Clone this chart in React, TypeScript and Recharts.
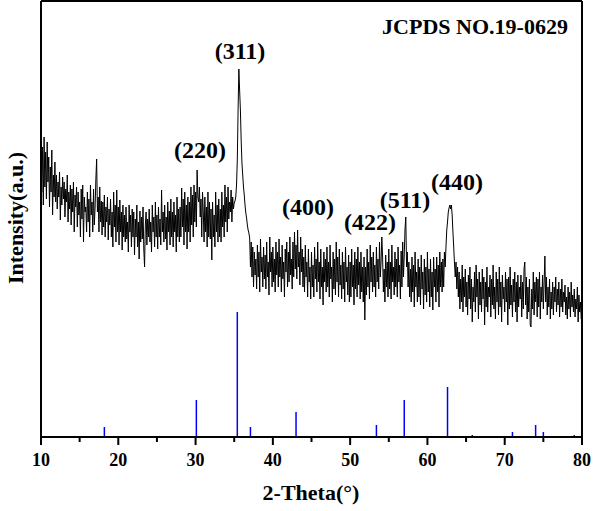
import { LineChart, Line, XAxis, YAxis, ReferenceLine } from 'recharts';

// diffraction scan, 2-theta from 10 to 80 in 0.1 deg steps (one row per degree)
const thetaStart = 10;
const thetaStep = 0.1;
const intensity = [
  270, 245, 290, 232, 300, 250, 285, 238, 295, 255, // 10
  280, 230, 270, 245, 287, 222, 262, 240, 275, 235, // 11
  262, 228, 255, 240, 265, 217, 250, 232, 260, 238, // 12
  255, 220, 248, 235, 262, 215, 245, 228, 252, 212, // 13
  248, 225, 255, 205, 242, 230, 250, 210, 245, 222, // 14
  235, 200, 248, 218, 252, 195, 240, 225, 230, 205, // 15
  245, 215, 238, 200, 252, 222, 235, 205, 248, 212, // 16
  230, 258, 278, 225, 240, 205, 250, 215, 236, 202, // 17
  235, 210, 242, 200, 230, 215, 240, 197, 228, 212, // 18
  238, 200, 225, 190, 245, 210, 232, 195, 247, 205, // 19
  230, 192, 237, 205, 225, 187, 232, 200, 222, 195, // 20
  230, 198, 215, 185, 232, 205, 222, 190, 228, 200, // 21
  225, 182, 218, 200, 232, 190, 215, 178, 226, 195, // 22
  220, 198, 230, 188, 170, 212, 225, 192, 218, 200, // 23
  228, 195, 215, 185, 232, 205, 220, 190, 235, 200, // 24
  222, 188, 230, 200, 218, 192, 247, 205, 225, 195, // 25
  232, 198, 220, 187, 235, 205, 226, 192, 238, 200, // 26
  225, 190, 235, 205, 222, 185, 240, 200, 228, 195, // 27
  230, 200, 249, 210, 238, 192, 245, 205, 232, 188, // 28
  240, 205, 235, 195, 250, 212, 242, 200, 252, 215, // 29
  245, 210, 267, 240, 235, 250, 220, 238, 200, 245, // 30
  225, 195, 240, 205, 230, 190, 245, 200, 235, 198, // 31
  228, 177, 235, 200, 222, 190, 245, 205, 232, 195, // 32
  238, 200, 228, 195, 245, 210, 232, 200, 252, 215, // 33
  240, 205, 250, 218, 235, 225, 247, 215, 240, 228, // 34
  234, 236, 240, 252, 277, 327, 368, 347, 327, 297, // 35
  274, 262, 250, 242, 232, 224, 219, 212, 207, 204, // 36
  199, 170, 195, 160, 190, 150, 185, 162, 178, 148, // 37
  192, 160, 185, 145, 198, 165, 180, 150, 190, 158, // 38
  182, 148, 195, 160, 175, 142, 200, 165, 185, 150, // 39
  190, 155, 178, 145, 195, 162, 185, 150, 198, 160, // 40
  180, 145, 192, 158, 175, 140, 188, 165, 195, 150, // 41
  185, 155, 200, 162, 178, 148, 195, 160, 205, 168, // 42
  192, 158, 207, 170, 185, 152, 200, 165, 188, 150, // 43
  180, 145, 192, 160, 175, 140, 188, 155, 170, 138, // 44
  185, 150, 172, 140, 190, 158, 178, 145, 195, 155, // 45
  175, 138, 188, 150, 170, 132, 185, 155, 178, 145, // 46
  190, 150, 175, 140, 192, 158, 170, 135, 185, 148, // 47
  178, 142, 195, 155, 180, 140, 188, 152, 172, 138, // 48
  185, 148, 175, 135, 190, 155, 170, 142, 182, 135, // 49
  175, 140, 188, 150, 172, 132, 185, 148, 178, 140, // 50
  190, 152, 175, 138, 185, 145, 170, 135, 180, 117, // 51
  170, 142, 188, 150, 175, 138, 192, 155, 180, 145, // 52
  185, 150, 172, 140, 190, 155, 178, 148, 195, 160, // 53
  175, 200, 180, 145, 168, 135, 182, 150, 175, 140, // 54
  188, 148, 175, 138, 192, 155, 170, 142, 185, 150, // 55
  178, 140, 190, 155, 172, 138, 186, 150, 195, 160, // 56
  182, 208, 220, 170, 185, 150, 175, 140, 168, 135, // 57
  180, 145, 172, 130, 185, 150, 165, 135, 178, 140, // 58
  170, 132, 182, 148, 165, 128, 178, 142, 170, 135, // 59
  185, 145, 168, 130, 178, 140, 165, 127, 180, 150, // 60
  168, 135, 180, 145, 172, 130, 185, 150, 175, 145, // 61
  178, 150, 185, 170, 190, 207, 215, 225, 229, 232, // 62
  228, 232, 222, 205, 190, 174, 160, 175, 148, 170, // 63
  140, 165, 128, 158, 135, 172, 125, 160, 140, 168, // 64
  130, 155, 122, 162, 138, 170, 128, 158, 115, 150, // 65
  135, 165, 125, 172, 140, 158, 118, 165, 132, 155, // 66
  125, 168, 138, 160, 112, 155, 130, 170, 125, 150, // 67
  140, 162, 120, 158, 132, 172, 128, 150, 118, 165, // 68
  135, 158, 122, 170, 130, 155, 115, 162, 138, 150, // 69
  125, 165, 135, 158, 112, 160, 128, 170, 132, 152, // 70
  120, 158, 135, 165, 125, 155, 115, 162, 130, 150, // 71
  138, 162, 120, 155, 128, 168, 175, 132, 160, 118, // 72
  150, 125, 158, 112, 110, 148, 128, 165, 122, 155, // 73
  135, 160, 120, 158, 130, 165, 118, 150, 135, 162, // 74
  128, 155, 181, 135, 160, 122, 150, 130, 158, 118, // 75
  145, 128, 155, 122, 150, 135, 160, 125, 148, 132, // 76
  155, 120, 148, 130, 158, 125, 145, 135, 152, 122, // 77
  140, 118, 150, 128, 145, 120, 155, 130, 142, 125, // 78
  148, 120, 138, 128, 150, 115, 142, 125, 135, 118, // 79
  122,                                              // 80
];

// JCPDS 19-0629 reference lines
const refTheta = [18.2, 30.1, 35.4, 37.1, 43.0, 53.4, 57.0, 62.6, 65.8, 71.0, 74.0, 75.0, 79.0];
const refHeight = [10, 37, 125, 10, 25, 12, 37, 50, 2, 5, 12, 5, 2];

const xTicks = [10, 15, 20, 25, 30, 35, 40, 45, 50, 55, 60, 65, 70, 75, 80];

const peakNames = ['(311)', '(220)', '(400)', '(422)', '(511)', '(440)'];

const data = intensity.map((v, i) => ({
  theta: +(thetaStart + i * thetaStep).toFixed(1),
  value: v,
}));

const font = '"Liberation Serif", "Times New Roman", serif';

const XTick = (props: any) => {
  const { x, y, payload } = props;
  const major = payload.value % 10 === 0;
  return (
    <g>
      <line x1={x} x2={x} y1={y} y2={y + (major ? 8 : 5)} stroke="#000" strokeWidth={2} />
      {major && (
        <text x={x} y={y + 29} textAnchor="middle" fontFamily={font} fontWeight="bold" fontSize={18} fill="#000">
          {payload.value}
        </text>
      )}
    </g>
  );
};

export default function App() {
  const labelPos = [
    [240, 59],
    [200, 158],
    [308, 215],
    [370, 230],
    [405, 208],
    [457, 190],
  ];
  return (
    <div style={{ position: 'absolute', left: 0, top: 0, width: 596, height: 511, background: '#fff' }}>
      <LineChart
        width={596}
        height={511}
        data={data}
        margin={{ top: 1, right: 14, bottom: 34, left: 41 }}
      >
        <XAxis
          dataKey="theta"
          type="number"
          domain={[10, 80]}
          ticks={xTicks}
          tickLine={false}
          tickSize={0}
          tickMargin={0}
          tick={<XTick />}
          height={40}
          axisLine={{ stroke: '#000', strokeWidth: 2 }}
          allowDataOverflow
        />
        <YAxis type="number" domain={[0, 436]} hide allowDataOverflow />
        {refTheta.map((t, i) => (
          <ReferenceLine
            key={t}
            segment={[
              { x: t, y: 0 },
              { x: t, y: refHeight[i] },
            ]}
            stroke="#0000ff"
            strokeWidth={1.5}
          />
        ))}
        <Line
          type="linear"
          dataKey="value"
          stroke="#000"
          strokeWidth={1}
          dot={false}
          isAnimationActive={false}
        />
        {/* plot frame */}
        <ReferenceLine x={10} stroke="#000" strokeWidth={2} />
        <ReferenceLine x={80} stroke="#000" strokeWidth={2} />
        <ReferenceLine y={436} stroke="#000" strokeWidth={2} />
      </LineChart>
      <svg
        width={596}
        height={511}
        style={{ position: 'absolute', left: 0, top: 0, pointerEvents: 'none' }}
        fontFamily={font}
        fontWeight="bold"
        fill="#000"
      >
        {peakNames.map((n, i) => (
          <text key={n} x={labelPos[i][0]} y={labelPos[i][1]} textAnchor="middle" fontSize={24}>
            {n}
          </text>
        ))}
        <text x={475} y={34} textAnchor="middle" fontSize={22}>
          JCPDS NO.19-0629
        </text>
        <text x={311} y={500} textAnchor="middle" fontSize={22}>
          2-Theta(°)
        </text>
        <text x={23} y={218} textAnchor="middle" fontSize={22} transform="rotate(-90 23 218)">
          Intensity(a.u.)
        </text>
      </svg>
    </div>
  );
}
